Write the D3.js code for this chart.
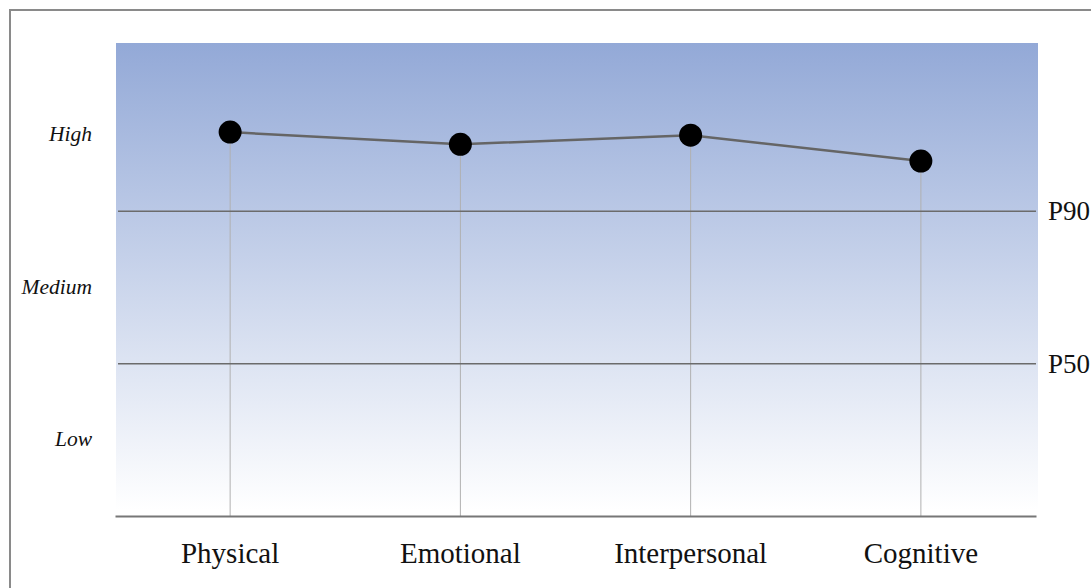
<!DOCTYPE html>
<html>
<head>
<meta charset="utf-8">
<script src="https://cdn.jsdelivr.net/npm/d3@7"></script>
<style>
  body { margin: 0; background: #fff; }
  svg { display: block; }
  text { font-family: "Liberation Serif", "Times New Roman", serif; fill: #111; }
</style>
</head>
<body>
<svg id="chart" width="1091" height="588"></svg>
<script>
    // data
    const categories = ['Physical', 'Emotional', 'Interpersonal', 'Cognitive'];
    const scores = [2.52, 2.44, 2.5, 2.33];
    const levelLabels = ['Low', 'Medium', 'High'];
    const thresholds = [{name: 'P50', value: 1}, {name: 'P90', value: 2}];

    let svg = d3.select('#chart'),
        mLeft = 115, mRight = 1036, mTop = 43, mBottom = 516;

    let x = d3.scaleBand().domain(categories).range([mLeft, mRight]),
        y = d3.scaleLinear().domain([0, 3]).range([mBottom, 59]);

    // frame
    svg.append('rect')
        .attr('x', 10).attr('y', 10).attr('width', 1100).attr('height', 600)
        .attr('fill', 'none').attr('stroke', '#8a8a8a').attr('stroke-width', 2);

    // gradient background
    let grad = svg.append('defs').append('linearGradient')
        .attr('id', 'bg').attr('x1', 0).attr('y1', 0).attr('x2', 0).attr('y2', 1);
    grad.append('stop').attr('offset', '0%').attr('stop-color', '#93a9d7');
    grad.append('stop').attr('offset', '100%').attr('stop-color', '#ffffff');
    svg.append('rect')
        .attr('x', mLeft + 1).attr('y', mTop)
        .attr('width', mRight - mLeft + 1).attr('height', mBottom - mTop - 6)
        .attr('fill', 'url(#bg)');

    // drop lines
    svg.selectAll('.drop').data(categories).join('line')
        .attr('class', 'drop')
        .attr('x1', d => x(d) + x.bandwidth() / 2)
        .attr('x2', d => x(d) + x.bandwidth() / 2)
        .attr('y1', (d, i) => y(scores[i]))
        .attr('y2', mBottom)
        .attr('stroke', '#b0b0b0').attr('stroke-width', 1);

    // threshold lines
    svg.selectAll('.thr').data(thresholds).join('line')
        .attr('class', 'thr')
        .attr('x1', mLeft + 3).attr('x2', mRight)
        .attr('y1', d => y(d.value)).attr('y2', d => y(d.value))
        .attr('stroke', '#6b6b6b').attr('stroke-width', 1.5);
    svg.selectAll('.thrlab').data(thresholds).join('text')
        .attr('class', 'thrlab')
        .attr('x', 1048).attr('y', d => y(d.value) + 9)
        .attr('font-size', 27)
        .text(d => d.name);

    // x axis
    let xAxis = svg.append('g')
        .attr('transform', `translate(0,${mBottom})`)
        .call(d3.axisBottom(x).tickSize(0).tickPadding(26));
    xAxis.select('.domain').attr('stroke', '#777').attr('stroke-width', 2);
    xAxis.selectAll('text')
        .attr('font-size', 29).attr('fill', '#111');

    // level labels
    svg.selectAll('.lvl').data(levelLabels).join('text')
        .attr('class', 'lvl')
        .attr('x', 92).attr('y', (d, i) => y(i + 0.5) + 6)
        .attr('text-anchor', 'end')
        .attr('font-style', 'italic').attr('font-size', 21.5)
        .text(d => d);

    // line + dots
    let line = d3.line()
        .x((d, i) => x(categories[i]) + x.bandwidth() / 2)
        .y(d => y(d));
    svg.append('path').datum(scores)
        .attr('d', line)
        .attr('fill', 'none').attr('stroke', '#656565').attr('stroke-width', 2.5);

    svg.selectAll('.dot').data(scores).join('circle')
        .attr('class', 'dot')
        .attr('cx', (d, i) => x(categories[i]) + x.bandwidth() / 2)
        .attr('cy', d => y(d))
        .attr('r', 11.5)
        .attr('fill', '#000');
</script>
</body>
</html>
